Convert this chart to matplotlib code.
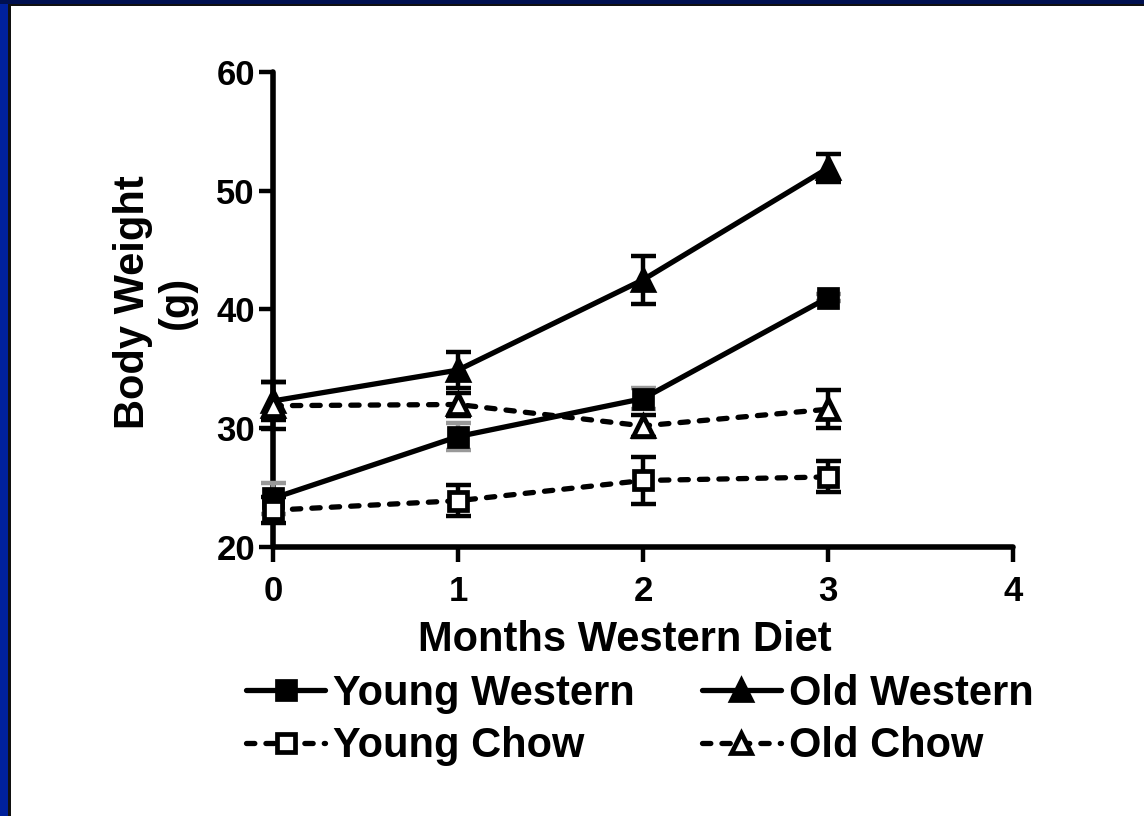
import matplotlib
matplotlib.use("Agg")
import matplotlib.pyplot as plt
from matplotlib.patches import Rectangle

plt.rcParams['font.family'] = ['Liberation Sans', 'DejaVu Sans']
plt.rcParams['font.weight'] = 'bold'
plt.rcParams['lines.scale_dashes'] = False

# Body weight (g) over months on diet, mean ± SEM
months = [0, 1, 2, 3]
series_names = ["Young Western", "Old Western", "Young Chow", "Old Chow"]
young_western = [24.1, 29.3, 32.5, 41.0]
young_western_err = [1.3, 1.1, 0.9, 0.3]
old_western = [32.3, 34.9, 42.5, 51.9]
old_western_err = [1.6, 1.5, 2.0, 1.2]
young_chow = [23.1, 23.9, 25.6, 25.9]
young_chow_err = [1.1, 1.3, 2.0, 1.3]
old_chow = [31.9, 32.0, 30.2, 31.6]
old_chow_err = [2.0, 1.0, 0.9, 1.6]

x_ticks = [0, 1, 2, 3, 4]
y_ticks = [20, 30, 40, 50, 60]

W, H = 1144, 816
fig = plt.figure(figsize=(W / 100, H / 100), dpi=100)
fig.patch.set_facecolor("white")

# slide frame: blue strip on the left and top with a dark inner edge
fig.add_artist(Rectangle((0, 0), 8 / W, 1, transform=fig.transFigure,
                         facecolor="#00219c", edgecolor="none", zorder=0))
fig.add_artist(Rectangle((8 / W, 0), 3 / W, 1, transform=fig.transFigure,
                         facecolor="#111111", edgecolor="none", zorder=0))
fig.add_artist(Rectangle((0, 1 - 4 / H), 1, 4 / H, transform=fig.transFigure,
                         facecolor="#001050", edgecolor="none", zorder=0))
fig.add_artist(Rectangle((8 / W, 1 - 6 / H), 1, 2 / H, transform=fig.transFigure,
                         facecolor="#111111", edgecolor="none", zorder=0))

ax_left, ax_right = 273 / W, 1013 / W
ax_top, ax_bot = 1 - 72 / H, 1 - 547 / H
ax = fig.add_axes([ax_left, ax_bot, ax_right - ax_left, ax_top - ax_bot])
ax.set_xlim(0, 4)
ax.set_ylim(20, 60)
ax.patch.set_alpha(0)

for side in ("top", "right"):
    ax.spines[side].set_visible(False)
for side in ("left", "bottom"):
    ax.spines[side].set_linewidth(4.0)
    ax.spines[side].set_capstyle("round")

ax.set_xticks(x_ticks)
ax.set_yticks(y_ticks)
ax.tick_params(axis="both", width=3.2, color="black", labelsize=25)
ax.tick_params(axis="y", length=10, pad=3)
ax.tick_params(axis="x", length=11, pad=9)
for t in ax.get_xticklines() + ax.get_yticklines():
    t.set_solid_capstyle("round")
for lab in ax.get_xticklabels() + ax.get_yticklabels():
    lab.set_fontweight("bold")

dash = (0, (6, 8))
lw = 3.8
styles = [
    dict(y=young_western, e=young_western_err, ls="-", marker="s", mfc="black", ecol="0.6", ms=13),
    dict(y=old_western, e=old_western_err, ls="-", marker="^", mfc="black", ecol="black", ms=15),
    dict(y=young_chow, e=young_chow_err, ls=dash, marker="s", mfc="white", ecol="black", ms=13),
    dict(y=old_chow, e=old_chow_err, ls=dash, marker="^", mfc="white", ecol="black", ms=15),
]

handles = []
for name, st in zip(series_names, styles):
    eb = ax.errorbar(months, st["y"], yerr=st["e"], fmt="none", ecolor=st["ecol"],
                     elinewidth=3.2, capsize=9, capthick=3.2, zorder=3)
    for c in list(eb.lines[1]) + list(eb.lines[2]):
        c.set_clip_on(False)
    ln, = ax.plot(months, st["y"], linestyle=st["ls"], color="black", linewidth=lw,
                  marker=st["marker"], markersize=st["ms"], markerfacecolor=st["mfc"],
                  markeredgecolor="black", markeredgewidth=3.4,
                  dash_capstyle="round", solid_capstyle="round", clip_on=False, zorder=4)
    handles.append(ln)

fig.text(155 / W, 1 - 302 / H, "Body Weight\n(g)", rotation=90, ha="center", va="center",
         multialignment="center", fontsize=30, fontweight="bold", linespacing=1.15)
fig.text(625 / W, 1 - 640 / H, "Months Western Diet", ha="center", va="center",
         fontsize=30, fontweight="bold")

# legend reads row by row: Western pair on top, Chow pair below
order = [0, 2, 1, 3]
leg = fig.legend([handles[i] for i in order], [series_names[i] for i in order],
                 ncol=2, loc="center",
                 bbox_to_anchor=(640 / W, 1 - 720 / H), frameon=False,
                 prop=dict(size=30, weight="bold"), handlelength=1.9,
                 handletextpad=0.2, columnspacing=1.6, labelspacing=0.3,
                 borderpad=0, borderaxespad=0)

fig.savefig("out.png", dpi=100, facecolor="white")
